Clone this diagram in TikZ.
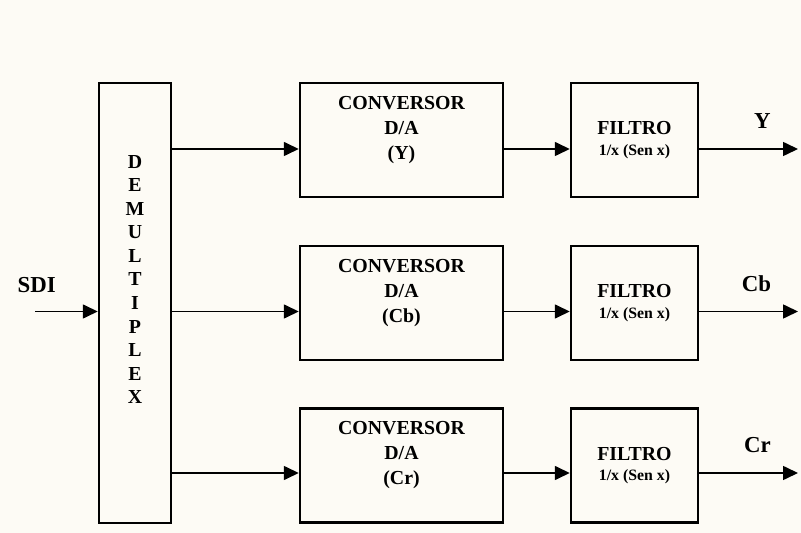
\documentclass[tikz,border=0pt]{standalone}
\usepackage{fontspec}
\setmainfont{Liberation Serif}
\usetikzlibrary{arrows.meta,positioning,calc}
\definecolor{paper}{RGB}{253,251,245}

\begin{document}
\begin{tikzpicture}[
    >={Triangle[length=0.3cm,width=0.28cm]},
    box/.style={rectangle, draw, line width=1.4pt, align=center, inner sep=2pt,
                font=\bfseries\fontsize{11.3}{14.2}\selectfont},
    demux/.style={box, minimum width=1.44cm, minimum height=8.8cm,
                font=\bfseries\fontsize{11.3}{13.4}\selectfont},
    conv/.style={box, minimum width=4.06cm, minimum height=2.28cm},
    filt/.style={box, minimum width=2.54cm, minimum height=2.28cm,
                font=\bfseries\fontsize{11.3}{11.6}\selectfont},
    sig/.style={font=\bfseries\fontsize{13}{15}\selectfont, inner sep=0pt},
    arr/.style={->, line width=0.9pt}
  ]
  \fill[paper] (0,0) rectangle (16.02,-10.66);

  \node[demux] (dmx) at (2.70,-6.06) {D\\E\\M\\U\\L\\T\\I\\P\\L\\E\\X\\ \\ };
  \node[conv] (cy) at (8.03,-2.80) {CONVERSOR\\D/A\\(Y)\\ };
  \node[conv] (cb) at (8.03,-6.06) {CONVERSOR\\D/A\\(Cb)\\ };
  \node[conv] (cr) at (8.03,-9.31) {CONVERSOR\\D/A\\(Cr)\\ };
  \node[filt] (fy) at (12.69,-2.80) {FILTRO\\{\fontsize{9}{11}\selectfont 1/x (Sen x)}};
  \node[filt] (fb) at (12.69,-6.06) {FILTRO\\{\fontsize{9}{11}\selectfont 1/x (Sen x)}};
  \node[filt] (fr) at (12.69,-9.31) {FILTRO\\{\fontsize{9}{11}\selectfont 1/x (Sen x)}};

  % signal rows
  \coordinate (ry) at (0,-2.98);
  \coordinate (rb) at (0,-6.23);
  \coordinate (rr) at (0,-9.46);
  \coordinate (in) at (0.70,-6.23);
  \coordinate (oy) at (15.96,-2.98);
  \coordinate (ob) at (15.96,-6.23);
  \coordinate (or) at (15.96,-9.46);

  \draw[arr] (in) node[sig, above=10.4pt, xshift=1pt] (lsdi) {SDI} -- (in -| dmx.west);

  \draw[arr] (dmx.east |- ry) -- (cy.west |- ry);
  \draw[arr] (dmx.east |- rb) -- (cb.west |- rb);
  \draw[arr] (dmx.east |- rr) -- (cr.west |- rr);

  \draw[arr] (cy.east |- ry) -- (fy.west |- ry);
  \draw[arr] (cb.east |- rb) -- (fb.west |- rb);
  \draw[arr] (cr.east |- rr) -- (fr.west |- rr);

  \draw[arr] (fy.east |- ry) -- (oy) node[sig, above=11pt, pos=0.64] (ly) {Y};
  \draw[arr] (fb.east |- rb) -- (ob) node[sig, above=11pt, pos=0.58] (lb) {Cb};
  \draw[arr] (fr.east |- rr) -- (or) node[sig, above=11pt, pos=0.59] (lr) {Cr};
\end{tikzpicture}
\end{document}
